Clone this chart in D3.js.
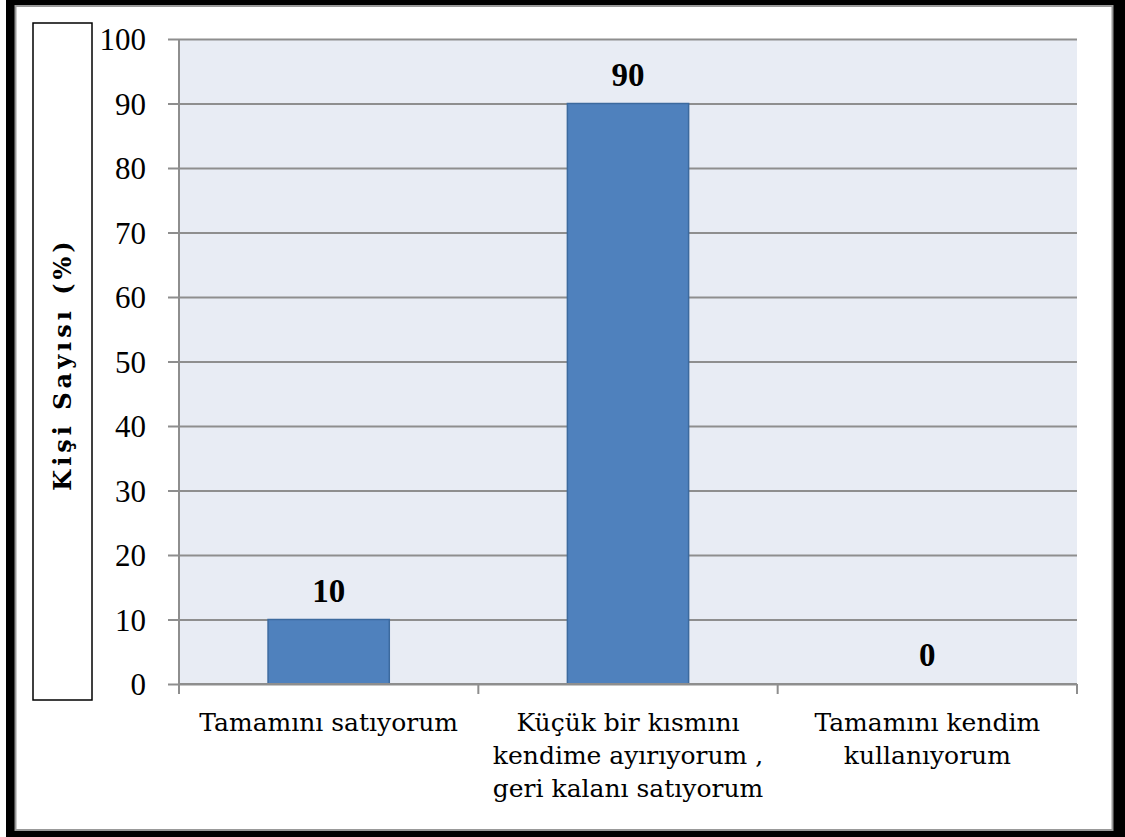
<!DOCTYPE html>
<html>
<head>
<meta charset="utf-8">
<script src="https://cdn.jsdelivr.net/npm/d3@7"></script>
<style>
  body { margin: 0; background: #fff; }
  svg { display: block; }
</style>
</head>
<body>
<svg id="chart" width="1125" height="837"></svg>
<script>
const categories = [
  ['Tamamını satıyorum'],
  ['Küçük bir kısmını', 'kendime ayırıyorum ,', 'geri kalanı satıyorum'],
  ['Tamamını kendim', 'kullanıyorum']
]
const values = [10, 90, 0]
const yTicks = [0, 10, 20, 30, 40, 50, 60, 70, 80, 90, 100]
const yTitle = 'Kişi Sayısı (%)'

const serif = "'DejaVu Serif', 'Liberation Serif', serif"
const numFont = "'Liberation Serif', serif"
const svg = d3.select('#chart')

// frame with shadow
svg.append('rect').attr('x', 6).attr('y', 0).attr('width', 1119).attr('height', 837).attr('fill', '#000')
svg.append('rect').attr('x', 15.5).attr('y', 6).attr('width', 1097).attr('height', 824)
  .attr('fill', '#fff').attr('stroke', '#999').attr('stroke-width', 2)

const plot = { left: 179, right: 1077, top: 39, bottom: 684 }

const x = d3.scaleBand()
  .domain(d3.range(categories.length))
  .range([plot.left, plot.right])
  .paddingInner(0.595)
  .paddingOuter(0.2975)

const y = d3.scaleLinear().domain([0, 100]).range([plot.bottom, plot.top])

svg.append('rect')
  .attr('x', plot.left).attr('y', plot.top)
  .attr('width', plot.right - plot.left).attr('height', plot.bottom - plot.top)
  .attr('fill', '#e8ecf4')

// gridlines + y ticks
svg.append('g')
  .attr('transform', `translate(${plot.right},0)`)
  .call(d3.axisLeft(y).tickValues(yTicks).tickSize(plot.right - plot.left + 11).tickFormat(''))
  .call(g => g.select('.domain').remove())
  .call(g => g.selectAll('line').attr('stroke', '#8e8e8e').attr('stroke-width', 2))

svg.append('g')
  .attr('transform', `translate(${plot.left - 33},0)`)
  .call(d3.axisLeft(y).tickValues(yTicks).tickSize(0).tickPadding(0))
  .call(g => g.select('.domain').remove())
  .call(g => g.selectAll('text')
    .attr('font-family', numFont).attr('font-size', 31).attr('fill', '#000').attr('dy', '0.34em'))

// bars
svg.append('g').selectAll('rect')
  .data(values)
  .join('rect')
  .attr('x', (d, i) => x(i))
  .attr('y', d => y(d))
  .attr('width', x.bandwidth())
  .attr('height', d => y(0) - y(d))
  .attr('fill', '#4f81bd')
  .attr('stroke', '#3c6a9e')
  .attr('stroke-width', 1.5)

// value labels
svg.append('g').selectAll('text')
  .data(values)
  .join('text')
  .attr('x', (d, i) => x(i) + x.bandwidth() / 2)
  .attr('y', d => y(d) - 18)
  .attr('text-anchor', 'middle')
  .attr('font-family', numFont)
  .attr('font-weight', 'bold')
  .attr('font-size', 33)
  .text(d => d)

// x axis
const xEdges = d3.range(categories.length + 1).map(i => plot.left + i * (plot.right - plot.left) / categories.length)
svg.append('line')
  .attr('x1', plot.left).attr('x2', plot.right).attr('y1', plot.bottom).attr('y2', plot.bottom)
  .attr('stroke', '#8e8e8e').attr('stroke-width', 2)
svg.append('g').selectAll('line')
  .data(xEdges)
  .join('line')
  .attr('x1', d => d).attr('x2', d => d)
  .attr('y1', (d, i) => i === 0 ? plot.top : plot.bottom)
  .attr('y2', plot.bottom + 10)
  .attr('stroke', '#8e8e8e').attr('stroke-width', 2)

svg.append('g').selectAll('text')
  .data(categories)
  .join('text')
  .attr('x', (d, i) => x(i) + x.bandwidth() / 2)
  .attr('y', 731)
  .attr('text-anchor', 'middle')
  .attr('font-family', serif)
  .attr('font-size', 25)
  .attr('fill', '#000')
  .selectAll('tspan')
  .data(d => d)
  .join('tspan')
  .attr('x', function () { return d3.select(this.parentNode).attr('x') })
  .attr('dy', (d, i) => i === 0 ? 0 : 33)
  .text(d => d)

// y title box
svg.append('rect')
  .attr('x', 33).attr('y', 23).attr('width', 59).attr('height', 677)
  .attr('fill', '#fff').attr('stroke', '#000').attr('stroke-width', 1.5)
svg.append('text')
  .attr('transform', 'translate(71,364) rotate(-90)')
  .attr('text-anchor', 'middle')
  .attr('font-family', serif)
  .attr('font-weight', 'bold')
  .attr('font-size', 24)
  .attr('letter-spacing', 4)
  .text(yTitle)
</script>
</body>
</html>
